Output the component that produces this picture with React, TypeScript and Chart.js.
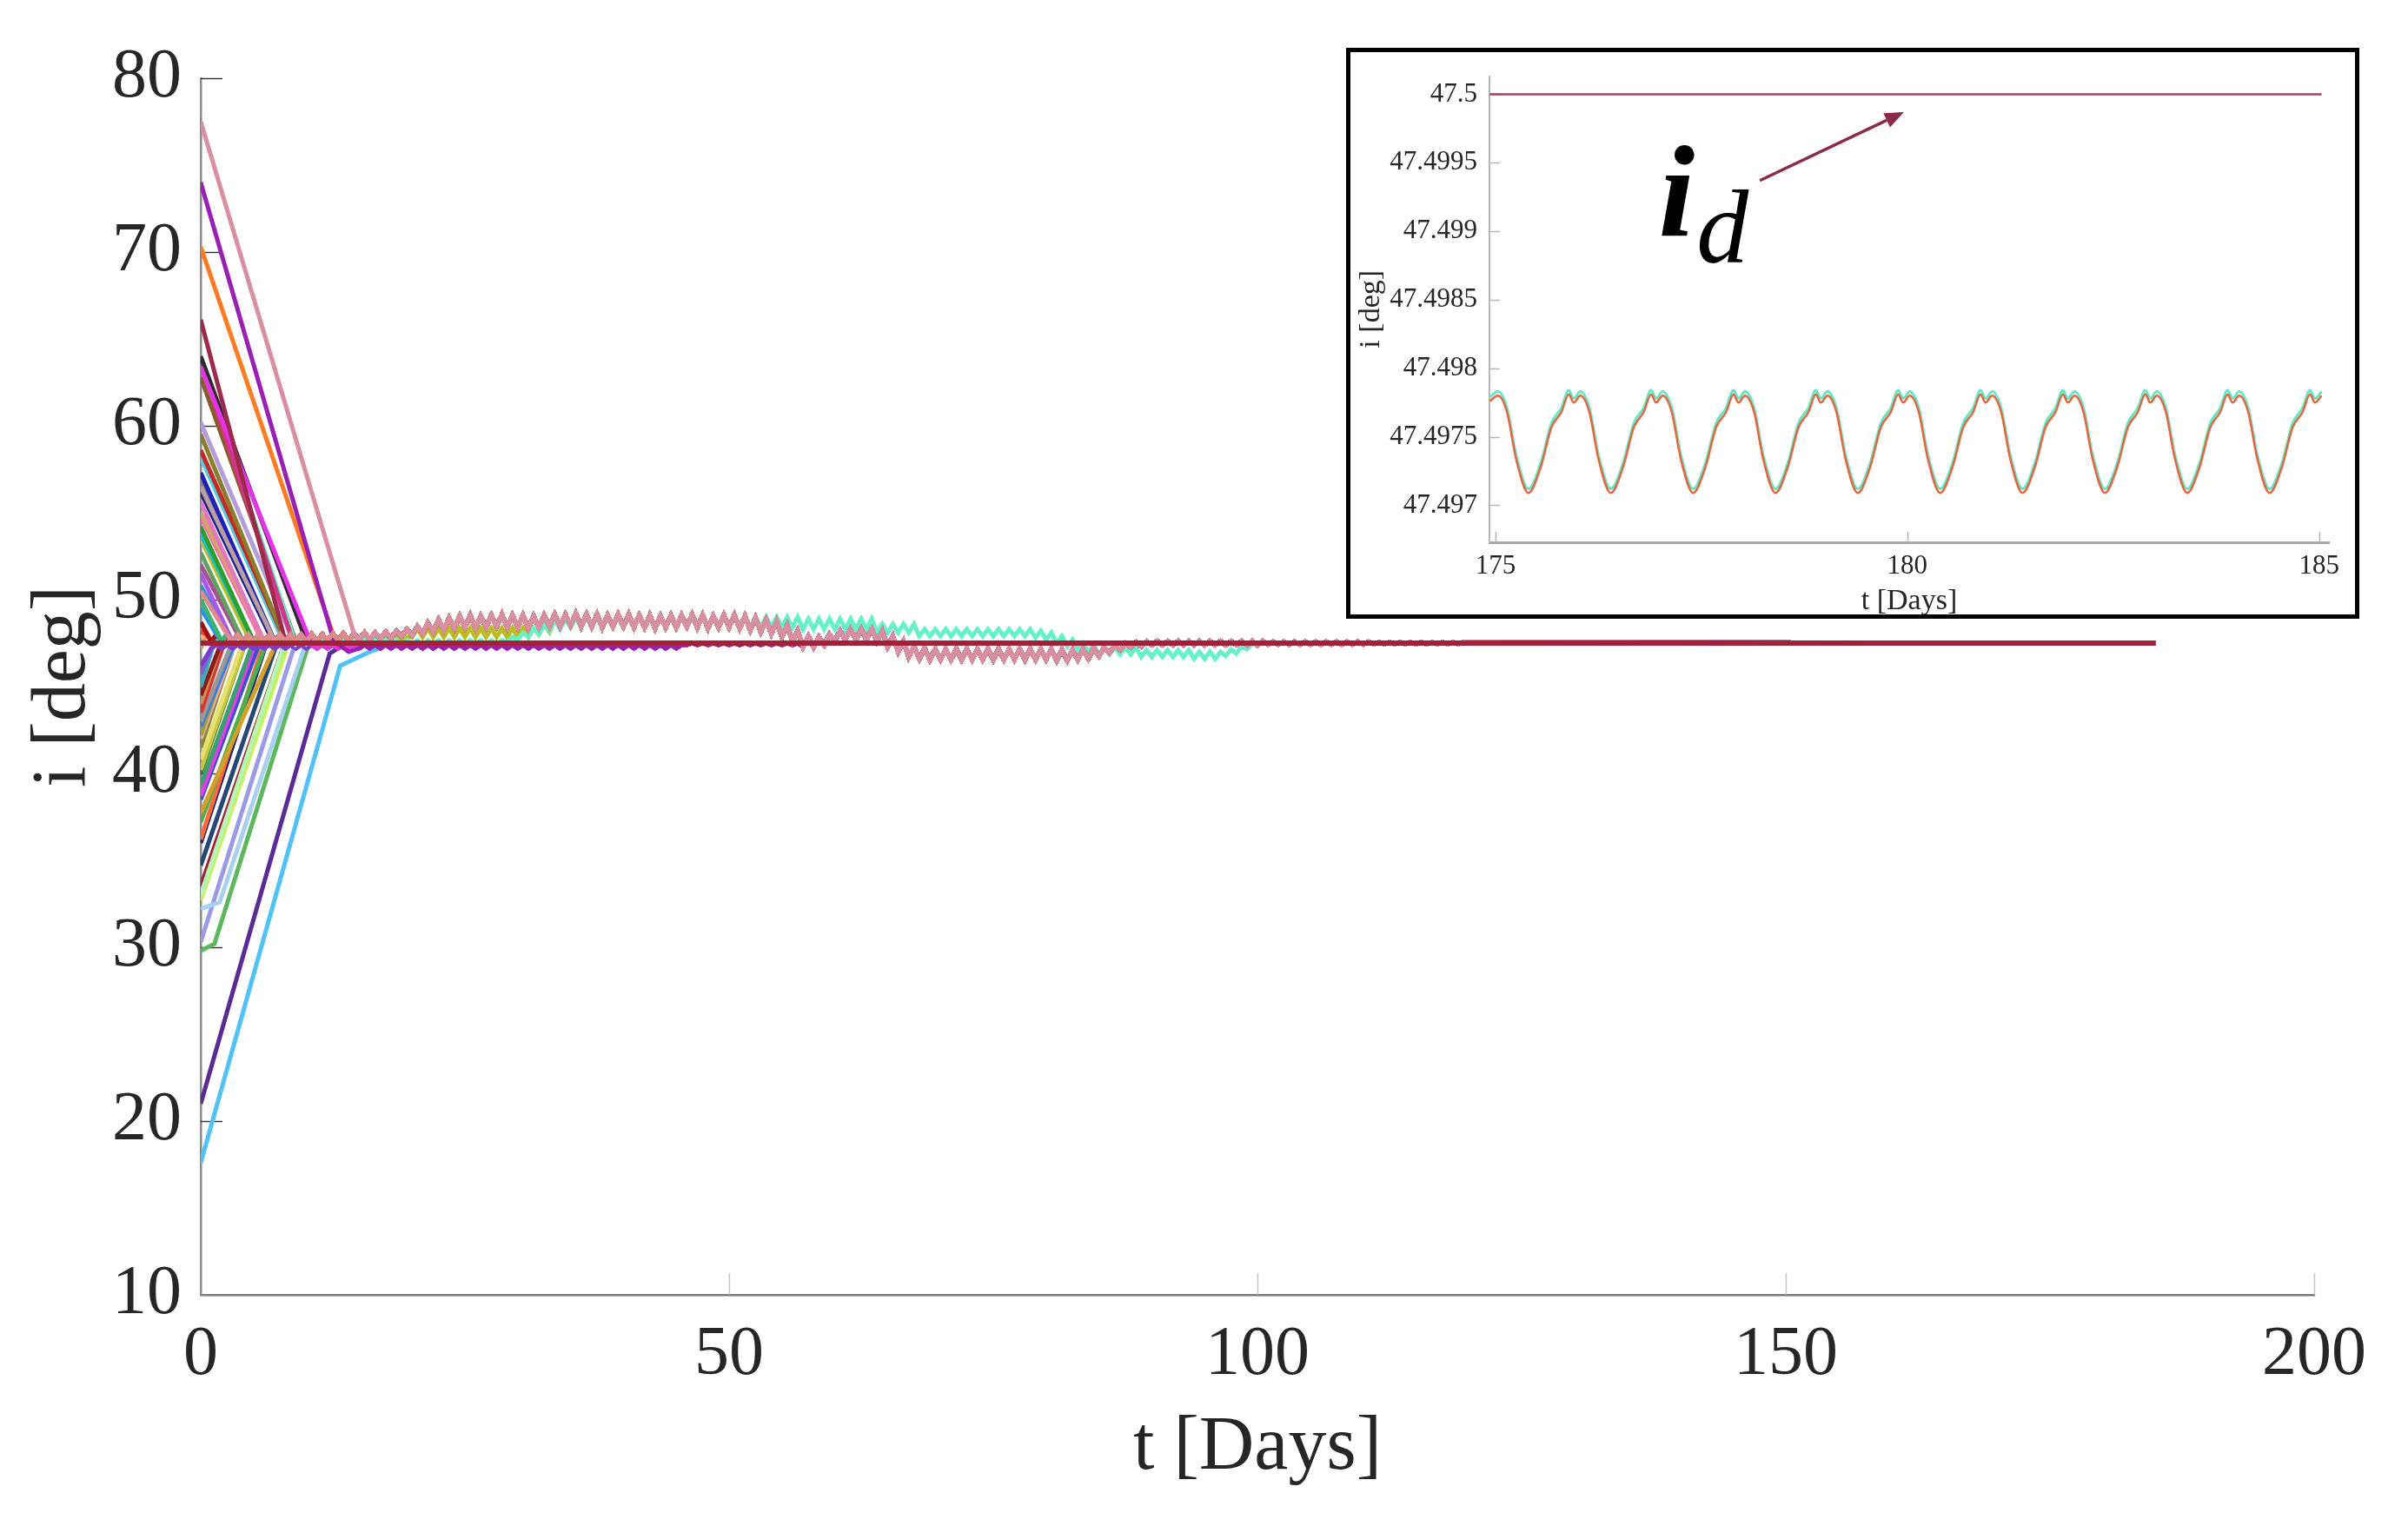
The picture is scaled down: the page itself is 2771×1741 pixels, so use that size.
import React, { useEffect, useRef } from 'react';
import { Chart, registerables } from 'chart.js';

Chart.register(...registerables);

const SERIF = "'Liberation Serif', 'Times New Roman', serif";
const TEXT_COLOR = '#262626';

// ---------------- main chart data ----------------
const MAIN_X_TICKS = [0, 50, 100, 150, 200];
const MAIN_Y_TICKS = [10, 20, 30, 40, 50, 60, 70, 80];
const REF_T = [0, 185];
const REF_I = [47.5, 47.5];
const FINAL_T = 185;
const FINAL_I = 47.5;

// initial inclination of each trajectory [deg]
const FAN_START = [
  17.6, 21.0, 29.8, 30.3, 32.2, 32.7, 33.5, 33.0, 34.7, 36.0,
  36.2, 37.2, 37.7, 38.5, 38.7, 39.3, 40.0, 40.2, 40.8, 41.5,
  42.0, 42.2, 42.7, 43.0, 43.5, 44.0, 44.5, 45.0, 45.7, 46.2,
  47.2, 47.8, 48.2, 48.7, 49.5, 50.0, 50.8, 51.5, 52.0, 52.7,
  53.5, 53.8, 54.2, 54.8, 55.0, 55.6, 56.2, 56.8, 57.3, 58.2,
  58.6, 59.5, 60.2, 62.8, 63.8, 63.9, 63.7, 64.0, 63.4, 66.1,
  70.3, 74.0, 56.5, 50.5, 77.5,
];
// day at which each trajectory joins the settled bundle
const FAN_ARRIVE = [
  17, 13, 10.3, 8.8, 9.8, 8.3, 7.6, 8.0, 7.2, 6.5,
  5.8, 6.2, 7.1, 5.2, 5.0, 4.7, 4.3, 4.2, 3.8, 3.4,
  3.1, 3.0, 2.8, 2.6, 2.3, 2.0, 1.7, 1.4, 1.0, 0.7,
  0.3, 0.3, 0.4, 0.8, 1.4, 1.8, 2.4, 2.9, 3.3, 3.9,
  4.4, 4.6, 5.0, 5.4, 5.6, 6.0, 6.4, 6.8, 7.0, 7.4,
  7.6, 8.0, 8.4, 8.8, 8.6, 8.5, 8.2, 10.0, 10.3, 8.0,
  12.4, 15, 6.6, 2.2, 14.2,
];
const FAN_COLOR = [
  '#4fc3f7', '#5b2a96', '#5cb85c', '#9a9ae6', '#a8d0f0', '#c7f25a', '#a0203a', '#b5f5b5', '#24477a', '#1a237e',
  '#ff6a3d', '#4caf50', '#d4a02a', '#3a50d0', '#e040e0', '#3aa070', '#2e7d32', '#c8c840', '#e8e070', '#8a8a30',
  '#f4a6c0', '#a0a030', '#3b7dd8', '#999999', '#e03030', '#c89050', '#8b1a1a', '#30b0c0', '#8060d0', '#7a3ad6',
  '#d0a070', '#ffb07a', '#e53935', '#a01010', '#2196f3', '#3cb371', '#3a8fd8', '#aa55ee', '#a55194', '#5fa35f',
  '#bcbd22', '#17becf', '#2ca02c', '#ff69b4', '#d6a36b', '#e377c2', '#1e1e8f', '#808080', '#1f1fbf', '#4dd0e1',
  '#c62828', '#8b7d2b', '#b39ddb', '#8b5a2b', '#66f2c8', '#43a047', '#d6338c', '#2b2b2b', '#e433e8', '#9e2a4b',
  '#ff7b22', '#9a1fb5', '#b8a0a0', '#e08a8a', '#d98ea1',
];
const FAN_TAIL = [
  'D', 'D', 'A', 'A', 'A', 'C', 'A', 'A', 'A', 'A',
  'A', 'A', 'A', 'D', 'D', 'A', 'A', 'A', 'C', 'A',
  'A', 'A', 'D', 'A', 'A', 'A', 'A', 'A', 'D', 'D',
  'A', 'A', 'A', 'A', 'A', 'A', 'A', 'A', 'A', 'A',
  'C', 'A', 'A', 'A', 'A', 'A', 'A', 'A', 'A', 'A',
  'A', 'A', 'A', 'A', 'B', 'A', 'A', 'A', 'D', 'A',
  'A', 'D', 'A', 'A', 'A',
];
// extra read-off bends [day, deg] before joining
const FAN_KNOTS: Record<number, number[][]> = {
  0: [[13.2, 46.2], [16, 47.0]],
  1: [[12.2, 46.9]],
  2: [[1.3, 30.2]],
  4: [[1.8, 32.6]],
  61: [[12.6, 47.6], [14, 47.0]],
};

// settled bundle, per day: trough at day d, peak at d + 0.5
const A_PEAK = [
  48.0, 48.0, 48.0, 48.0, 48.0, 48.0, 48.0, 48.0, 48.0, 48.0,
  48.0, 48.0, 48.05, 48.05, 48.05, 48.1, 48.1, 48.15, 48.2, 48.3,
  48.45, 48.65, 48.85, 48.95, 49.05, 49.1, 49.05, 49.1, 49.15, 49.1,
  49.1, 49.05, 49.1, 49.15, 49.15, 49.2, 49.15, 49.15, 49.1, 49.15,
  49.15, 49.1, 49.1, 49.05, 49.1, 49.1, 49.15, 49.1, 49.05, 49.1,
  49.1, 49.05, 48.95, 48.85, 48.75, 48.55, 48.2, 47.9, 47.85, 48.0,
  48.2, 48.3, 48.3, 48.3, 48.2, 47.9, 47.6, 47.3, 47.2, 47.15,
  47.15, 47.15, 47.15, 47.15, 47.15, 47.15, 47.15, 47.15, 47.15, 47.15,
  47.15, 47.1, 47.1, 47.15, 47.2, 47.25, 47.35, 47.5, 47.55, 47.6,
  47.62, 47.62, 47.62, 47.62, 47.62, 47.62, 47.62, 47.62, 47.62, 47.62,
  47.62, 47.58, 47.58, 47.58, 47.58, 47.58, 47.58, 47.58, 47.58, 47.58,
  47.58, 47.55, 47.55, 47.55, 47.55, 47.55, 47.55, 47.55, 47.55, 47.55,
];
const A_TROUGH = [
  47.6, 47.6, 47.6, 47.6, 47.6, 47.6, 47.6, 47.6, 47.6, 47.6,
  47.6, 47.6, 47.65, 47.65, 47.65, 47.7, 47.7, 47.75, 47.8, 47.9,
  47.95, 48.05, 48.15, 48.25, 48.35, 48.4, 48.35, 48.4, 48.45, 48.4,
  48.4, 48.35, 48.4, 48.45, 48.45, 48.5, 48.45, 48.45, 48.4, 48.45,
  48.45, 48.4, 48.4, 48.35, 48.4, 48.4, 48.45, 48.4, 48.35, 48.4,
  48.4, 48.35, 48.25, 48.15, 48.05, 47.85, 47.6, 47.3, 47.25, 47.4,
  47.6, 47.7, 47.7, 47.7, 47.6, 47.3, 47.0, 46.7, 46.6, 46.55,
  46.55, 46.55, 46.55, 46.55, 46.55, 46.55, 46.55, 46.55, 46.55, 46.55,
  46.55, 46.5, 46.5, 46.55, 46.6, 46.75, 46.95, 47.1, 47.25, 47.3,
  47.38, 47.38, 47.38, 47.38, 47.38, 47.38, 47.38, 47.38, 47.38, 47.38,
  47.38, 47.42, 47.42, 47.42, 47.42, 47.42, 47.42, 47.42, 47.42, 47.42,
  47.42, 47.45, 47.45, 47.45, 47.45, 47.45, 47.45, 47.45, 47.45, 47.45,
];
// aquamarine trajectory
const B_PEAK = [
  47.67, 47.67, 47.67, 47.67, 47.67, 47.67, 47.67, 47.67, 47.67, 47.67,
  47.67, 47.67, 47.67, 47.67, 47.67, 47.67, 47.67, 47.67, 47.67, 47.67,
  47.67, 47.67, 47.67, 47.67, 47.67, 47.67, 47.67, 47.67, 47.67, 47.85,
  48.1, 48.35, 48.6, 48.8, 48.9, 49.0, 49.0, 49.0, 49.0, 49.0,
  49.0, 49.0, 49.0, 49.0, 49.0, 49.0, 49.0, 49.0, 49.0, 49.0,
  49.0, 49.0, 49.0, 49.0, 49.0, 49.0, 49.0, 48.9, 48.9, 48.9,
  48.9, 48.9, 48.9, 48.9, 48.6, 48.6, 48.6, 48.6, 48.3, 48.3,
  48.3, 48.3, 48.3, 48.3, 48.3, 48.3, 48.3, 48.3, 48.3, 48.2,
  48.1, 47.9, 47.7, 47.5, 47.4, 47.25, 47.25, 47.25, 47.25, 47.1,
  47.1, 47.1, 47.1, 47.1, 47.0, 47.0, 47.0, 47.15, 47.3, 47.45,
  47.57, 47.6, 47.6, 47.6, 47.6, 47.6, 47.6, 47.6, 47.6, 47.6,
  47.6, 47.56, 47.56, 47.56, 47.56, 47.56, 47.56, 47.56, 47.56, 47.56,
];
const B_TROUGH = [
  47.43, 47.43, 47.43, 47.43, 47.43, 47.43, 47.43, 47.43, 47.43, 47.43,
  47.43, 47.43, 47.43, 47.43, 47.43, 47.43, 47.43, 47.43, 47.43, 47.43,
  47.43, 47.43, 47.43, 47.43, 47.43, 47.43, 47.43, 47.43, 47.43, 47.55,
  47.7, 47.85, 48.0, 48.2, 48.3, 48.4, 48.4, 48.4, 48.4, 48.4,
  48.4, 48.4, 48.4, 48.4, 48.4, 48.4, 48.4, 48.4, 48.4, 48.4,
  48.4, 48.4, 48.4, 48.4, 48.4, 48.4, 48.4, 48.3, 48.3, 48.3,
  48.3, 48.3, 48.3, 48.3, 48.1, 48.1, 48.1, 48.1, 47.9, 47.9,
  47.9, 47.9, 47.9, 47.9, 47.9, 47.9, 47.9, 47.9, 47.9, 47.8,
  47.7, 47.5, 47.3, 47.1, 47.0, 46.85, 46.85, 46.85, 46.85, 46.7,
  46.7, 46.7, 46.7, 46.7, 46.6, 46.6, 46.6, 46.75, 46.9, 47.15,
  47.33, 47.4, 47.4, 47.4, 47.4, 47.4, 47.4, 47.4, 47.4, 47.4,
  47.4, 47.44, 47.44, 47.44, 47.44, 47.44, 47.44, 47.44, 47.44, 47.44,
];
// yellow-green lagging trajectories (then follow the bundle)
const C_PEAK = [
  47.85, 47.85, 47.85, 47.85, 47.85, 47.85, 47.85, 47.85, 47.85, 47.85,
  47.85, 47.85, 47.85, 47.85, 47.85, 47.85, 47.85, 47.85, 47.85, 47.85,
  48.35, 48.35, 48.35, 48.35, 48.35, 48.35, 48.35, 48.35, 48.35, 48.35,
  48.35, 48.35, 48.6, 48.85,
];
const C_TROUGH = [
  47.55, 47.55, 47.55, 47.55, 47.55, 47.55, 47.55, 47.55, 47.55, 47.55,
  47.55, 47.55, 47.55, 47.55, 47.55, 47.55, 47.55, 47.55, 47.55, 47.55,
  47.85, 47.85, 47.85, 47.85, 47.85, 47.85, 47.85, 47.85, 47.85, 47.85,
  47.85, 47.85, 48.0, 48.15,
];
// trajectories staying just below i_d (then follow the bundle)
const D_PEAK = [
  47.4, 47.4, 47.4, 47.4, 47.4, 47.4, 47.4, 47.4, 47.4, 47.4,
  47.4, 47.4, 47.4, 47.4, 47.4, 47.4, 47.4, 47.4, 47.4, 47.4,
  47.4, 47.4, 47.4, 47.4, 47.4, 47.4, 47.4, 47.4, 47.4, 47.4,
  47.4, 47.4, 47.4, 47.4, 47.4, 47.4, 47.4, 47.4, 47.4, 47.4,
  47.4, 47.4, 47.4, 47.4, 47.4, 47.4, 47.5, 47.5, 47.5, 47.5,
  47.5, 47.5, 47.5, 47.5, 47.5, 47.5, 47.5,
];
const D_TROUGH = [
  47.2, 47.2, 47.2, 47.2, 47.2, 47.2, 47.2, 47.2, 47.2, 47.2,
  47.2, 47.2, 47.2, 47.2, 47.2, 47.2, 47.2, 47.2, 47.2, 47.2,
  47.2, 47.2, 47.2, 47.2, 47.2, 47.2, 47.2, 47.2, 47.2, 47.2,
  47.2, 47.2, 47.2, 47.2, 47.2, 47.2, 47.2, 47.2, 47.2, 47.2,
  47.2, 47.2, 47.2, 47.2, 47.2, 47.2, 47.4, 47.4, 47.4, 47.4,
  47.4, 47.4, 47.4, 47.4, 47.4, 47.4, 47.4,
];

// ---------------- inset data ----------------
const INSET_X_TICKS = [175, 180, 185];
const INSET_Y_TICKS = [47.497, 47.4975, 47.498, 47.4985, 47.499, 47.4995, 47.5];
const INSET_Y_LABELS = ['47.497', '47.4975', '47.498', '47.4985', '47.499', '47.4995', '47.5'];
const INSET_X_MIN = 174.927;
const INSET_X_MAX = 185.12;
const INSET_Y_MIN = 47.49673;
const INSET_Y_MAX = 47.500132;
const INSET_REF_T = [174.93, 185.03];
const INSET_REF_I = [47.5, 47.5];
const INSET_T = [
  174.93,
  175.03, 175.14, 175.25, 175.40, 175.55, 175.68, 175.80, 175.89, 175.95,
  176.03, 176.14, 176.25, 176.40, 176.55, 176.68, 176.80, 176.89, 176.95,
  177.03, 177.14, 177.25, 177.40, 177.55, 177.68, 177.80, 177.89, 177.95,
  178.03, 178.14, 178.25, 178.40, 178.55, 178.68, 178.80, 178.89, 178.95,
  179.03, 179.14, 179.25, 179.40, 179.55, 179.68, 179.80, 179.89, 179.95,
  180.03, 180.14, 180.25, 180.40, 180.55, 180.68, 180.80, 180.89, 180.95,
  181.03, 181.14, 181.25, 181.40, 181.55, 181.68, 181.80, 181.89, 181.95,
  182.03, 182.14, 182.25, 182.40, 182.55, 182.68, 182.80, 182.89, 182.95,
  183.03, 183.14, 183.25, 183.40, 183.55, 183.68, 183.80, 183.89, 183.95,
  184.03, 184.14, 184.25, 184.40, 184.55, 184.68, 184.80, 184.89, 184.95,
  185.03,
];
const INSET_CYAN = [
  47.49779,
  47.49783, 47.49771, 47.49737, 47.49712, 47.49731, 47.4976, 47.49771, 47.49784, 47.49778,
  47.49783, 47.49771, 47.49737, 47.49712, 47.49731, 47.4976, 47.49771, 47.49784, 47.49778,
  47.49783, 47.49771, 47.49737, 47.49712, 47.49731, 47.4976, 47.49771, 47.49784, 47.49778,
  47.49783, 47.49771, 47.49737, 47.49712, 47.49731, 47.4976, 47.49771, 47.49784, 47.49778,
  47.49783, 47.49771, 47.49737, 47.49712, 47.49731, 47.4976, 47.49771, 47.49784, 47.49778,
  47.49783, 47.49771, 47.49737, 47.49712, 47.49731, 47.4976, 47.49771, 47.49784, 47.49778,
  47.49783, 47.49771, 47.49737, 47.49712, 47.49731, 47.4976, 47.49771, 47.49784, 47.49778,
  47.49783, 47.49771, 47.49737, 47.49712, 47.49731, 47.4976, 47.49771, 47.49784, 47.49778,
  47.49783, 47.49771, 47.49737, 47.49712, 47.49731, 47.4976, 47.49771, 47.49784, 47.49778,
  47.49783, 47.49771, 47.49737, 47.49712, 47.49731, 47.4976, 47.49771, 47.49784, 47.49778,
  47.49783,
];
const INSET_ORANGE = [
  47.49776,
  47.4978, 47.49768, 47.49734, 47.49709, 47.49728, 47.49757, 47.49768, 47.49781, 47.49775,
  47.4978, 47.49768, 47.49734, 47.49709, 47.49728, 47.49757, 47.49768, 47.49781, 47.49775,
  47.4978, 47.49768, 47.49734, 47.49709, 47.49728, 47.49757, 47.49768, 47.49781, 47.49775,
  47.4978, 47.49768, 47.49734, 47.49709, 47.49728, 47.49757, 47.49768, 47.49781, 47.49775,
  47.4978, 47.49768, 47.49734, 47.49709, 47.49728, 47.49757, 47.49768, 47.49781, 47.49775,
  47.4978, 47.49768, 47.49734, 47.49709, 47.49728, 47.49757, 47.49768, 47.49781, 47.49775,
  47.4978, 47.49768, 47.49734, 47.49709, 47.49728, 47.49757, 47.49768, 47.49781, 47.49775,
  47.4978, 47.49768, 47.49734, 47.49709, 47.49728, 47.49757, 47.49768, 47.49781, 47.49775,
  47.4978, 47.49768, 47.49734, 47.49709, 47.49728, 47.49757, 47.49768, 47.49781, 47.49775,
  47.4978, 47.49768, 47.49734, 47.49709, 47.49728, 47.49757, 47.49768, 47.49781, 47.49775,
  47.4978,
];
// annotation anchors in inset data coordinates
const ARROW_FROM = [178.21, 47.49937];
const ARROW_TO = [179.96, 47.49987];
const LABEL_I_POS = [176.98, 47.49896];
const LABEL_D_POS = [177.44, 47.49877];

type Pt = { x: number; y: number };

function tailPoints(peaks: number[], troughs: number[]): Pt[] {
  const pts: Pt[] = [];
  peaks.forEach((p, d) => {
    pts.push({ x: d, y: troughs[d] });
    pts.push({ x: d + 0.5, y: p });
  });
  return pts;
}

function buildTails(): Record<string, Pt[]> {
  const fin = { x: FINAL_T, y: FINAL_I };
  const a = [...tailPoints(A_PEAK, A_TROUGH), fin];
  const b = [...tailPoints(B_PEAK, B_TROUGH), fin];
  const c = [...tailPoints(C_PEAK, C_TROUGH), ...a.filter((p) => p.x >= C_PEAK.length)];
  const d = [...tailPoints(D_PEAK, D_TROUGH), ...a.filter((p) => p.x >= D_PEAK.length)];
  return { A: a, B: b, C: c, D: d };
}

function innerTicks(id: string, len: number, width: number, xColor: string, yColor: string) {
  return {
    id,
    beforeDatasetsDraw(chart: any) {
      const { ctx, chartArea } = chart;
      const xs = chart.scales.x;
      const ys = chart.scales.y;
      ctx.save();
      ctx.lineWidth = width;
      ctx.strokeStyle = xColor;
      xs.ticks.forEach((t: any) => {
        const px = Math.round(xs.getPixelForValue(t.value)) + 0.5;
        if (Math.abs(px - chartArea.left) < 3) return;
        ctx.beginPath();
        ctx.moveTo(px, chartArea.bottom);
        ctx.lineTo(px, chartArea.bottom - len);
        ctx.stroke();
      });
      ctx.strokeStyle = yColor;
      ys.ticks.forEach((t: any) => {
        const py = Math.round(ys.getPixelForValue(t.value)) + 0.5;
        if (Math.abs(py - chartArea.bottom) < 3) return;
        ctx.beginPath();
        ctx.moveTo(chartArea.left, py);
        ctx.lineTo(chartArea.left + len, py);
        ctx.stroke();
      });
      ctx.restore();
    },
  };
}

const insetAnnotation = {
  id: 'insetAnnotation',
  afterDatasetsDraw(chart: any) {
    const { ctx } = chart;
    const xs = chart.scales.x;
    const ys = chart.scales.y;
    const x1 = xs.getPixelForValue(ARROW_FROM[0]);
    const y1 = ys.getPixelForValue(ARROW_FROM[1]);
    const x2 = xs.getPixelForValue(ARROW_TO[0]);
    const y2 = ys.getPixelForValue(ARROW_TO[1]);
    const ang = Math.atan2(y2 - y1, x2 - x1);
    const head = 22;
    const hw = 9;
    const bx = x2 - head * Math.cos(ang);
    const by = y2 - head * Math.sin(ang);
    ctx.save();
    ctx.strokeStyle = '#8b2a4a';
    ctx.fillStyle = '#8b2a4a';
    ctx.lineWidth = 3.5;
    ctx.beginPath();
    ctx.moveTo(x1, y1);
    ctx.lineTo(bx, by);
    ctx.stroke();
    ctx.beginPath();
    ctx.moveTo(x2, y2);
    ctx.lineTo(bx + hw * Math.sin(ang), by - hw * Math.cos(ang));
    ctx.lineTo(bx - hw * Math.sin(ang), by + hw * Math.cos(ang));
    ctx.closePath();
    ctx.fill();
    ctx.fillStyle = '#000';
    ctx.textAlign = 'left';
    ctx.textBaseline = 'alphabetic';
    ctx.font = `italic bold 150px ${SERIF}`;
    ctx.fillText('i', xs.getPixelForValue(LABEL_I_POS[0]), ys.getPixelForValue(LABEL_I_POS[1]));
    ctx.font = `italic 120px ${SERIF}`;
    ctx.fillText('d', xs.getPixelForValue(LABEL_D_POS[0]), ys.getPixelForValue(LABEL_D_POS[1]));
    ctx.restore();
  },
};

function mainConfig(): any {
  const tails = buildTails();
  const fan: any[] = FAN_START.map((v0, i) => {
    const knots = FAN_KNOTS[i] || [];
    const pts: Pt[] = [{ x: 0, y: v0 }, ...knots.map(([t, v]) => ({ x: t, y: v }))];
    const ta = FAN_ARRIVE[i];
    pts.push(...tails[FAN_TAIL[i]].filter((p) => p.x >= ta));
    return {
      data: pts,
      borderColor: FAN_COLOR[i],
      borderWidth: 5,
      pointRadius: 0,
      tension: 0,
      fill: false,
    };
  });
  const ref = {
    data: REF_T.map((t, k) => ({ x: t, y: REF_I[k] })),
    borderColor: '#a3203a',
    borderWidth: 6,
    pointRadius: 0,
    fill: false,
  };
  // Chart.js paints dataset 0 last (on top): put the i_d line first, then fan in reverse
  const datasets = [ref, ...fan.slice().reverse()];
  return {
    type: 'line',
    data: { datasets },
    plugins: [innerTicks('mainTicks', 25, 1.5, '#c4c4c4', '#3a3a3a')],
    options: {
      responsive: false,
      animation: false,
      events: [],
      parsing: false,
      normalized: true,
      layout: { padding: { left: 0, right: 108, top: 90, bottom: 0 } },
      plugins: { legend: { display: false }, tooltip: { enabled: false } },
      scales: {
        x: {
          type: 'linear',
          min: 0,
          max: 200,
          afterBuildTicks: (s: any) => {
            s.ticks = MAIN_X_TICKS.map((v) => ({ value: v }));
          },
          afterFit: (s: any) => {
            s.height = 251;
          },
          grid: { display: true, drawOnChartArea: false, drawTicks: false },
          border: { display: true, color: '#7a7a7a', width: 2.5 },
          ticks: {
            autoSkip: false,
            maxRotation: 0,
            minRotation: 0,
            padding: 22,
            color: TEXT_COLOR,
            font: { family: SERIF, size: 80 },
            callback: (v: any) => String(v),
          },
          title: {
            display: true,
            text: 't [Days]',
            color: TEXT_COLOR,
            font: { family: SERIF, size: 88 },
            padding: { top: 0, bottom: 21 },
          },
        },
        y: {
          type: 'linear',
          min: 10,
          max: 80,
          afterBuildTicks: (s: any) => {
            s.ticks = MAIN_Y_TICKS.map((v) => ({ value: v }));
          },
          afterFit: (s: any) => {
            s.width = 231;
          },
          grid: { display: true, drawOnChartArea: false, drawTicks: false },
          border: { display: true, color: '#8a8a8a', width: 2.5 },
          ticks: {
            autoSkip: false,
            padding: 22,
            color: TEXT_COLOR,
            font: { family: SERIF, size: 80 },
            callback: (v: any) => String(v),
          },
          title: {
            display: true,
            text: 'i [deg]',
            color: TEXT_COLOR,
            font: { family: SERIF, size: 88 },
            padding: { top: 21, bottom: 0 },
          },
        },
      },
    },
  };
}

function insetConfig(): any {
  const cyan = {
    data: INSET_T.map((t, k) => ({ x: t, y: INSET_CYAN[k] })),
    borderColor: '#62e8c6',
    borderWidth: 3,
    pointRadius: 0,
    cubicInterpolationMode: 'monotone',
    tension: 0.4,
    fill: false,
  };
  const orange = {
    data: INSET_T.map((t, k) => ({ x: t, y: INSET_ORANGE[k] })),
    borderColor: '#e8643c',
    borderWidth: 2.5,
    pointRadius: 0,
    cubicInterpolationMode: 'monotone',
    tension: 0.4,
    fill: false,
  };
  const ref = {
    data: INSET_REF_T.map((t, k) => ({ x: t, y: INSET_REF_I[k] })),
    borderColor: '#b33a5a',
    borderWidth: 2.5,
    pointRadius: 0,
    fill: false,
  };
  return {
    type: 'line',
    data: { datasets: [ref, orange, cyan] },
    plugins: [innerTicks('insetTicks', 12, 1.5, '#b4b4b4', '#b4b4b4'), insetAnnotation],
    options: {
      responsive: false,
      animation: false,
      events: [],
      parsing: false,
      layout: { padding: { left: 0, right: 35, top: 16, bottom: 0 } },
      plugins: { legend: { display: false }, tooltip: { enabled: false } },
      scales: {
        x: {
          type: 'linear',
          min: INSET_X_MIN,
          max: INSET_X_MAX,
          afterBuildTicks: (s: any) => {
            s.ticks = INSET_X_TICKS.map((v) => ({ value: v }));
          },
          afterFit: (s: any) => {
            s.height = 88;
          },
          grid: { display: true, drawOnChartArea: false, drawTicks: false },
          border: { display: true, color: '#a8a8a8', width: 3 },
          ticks: {
            autoSkip: false,
            maxRotation: 0,
            minRotation: 0,
            padding: 9,
            color: TEXT_COLOR,
            font: { family: SERIF, size: 31 },
            callback: (v: any) => String(v),
          },
          title: {
            display: true,
            text: 't [Days]',
            color: TEXT_COLOR,
            font: { family: SERIF, size: 34 },
            padding: { top: 0, bottom: 0 },
          },
        },
        y: {
          type: 'linear',
          min: INSET_Y_MIN,
          max: INSET_Y_MAX,
          afterBuildTicks: (s: any) => {
            s.ticks = INSET_Y_TICKS.map((v) => ({ value: v }));
          },
          afterFit: (s: any) => {
            s.width = 165;
          },
          grid: { display: true, drawOnChartArea: false, drawTicks: false },
          border: { display: true, color: '#b8b8b8', width: 2 },
          ticks: {
            autoSkip: false,
            padding: 14,
            color: TEXT_COLOR,
            font: { family: SERIF, size: 31 },
            callback: (_v: any, idx: number) => INSET_Y_LABELS[idx],
          },
          title: {
            display: true,
            text: 'i [deg]',
            color: TEXT_COLOR,
            font: { family: SERIF, size: 34 },
            padding: { top: 9, bottom: 0 },
          },
        },
      },
    },
  };
}

export default function App() {
  const mainRef = useRef<HTMLCanvasElement>(null);
  const insetRef = useRef<HTMLCanvasElement>(null);

  useEffect(() => {
    document.body.style.margin = '0';
    const c1 = new Chart(mainRef.current as HTMLCanvasElement, mainConfig());
    const c2 = new Chart(insetRef.current as HTMLCanvasElement, insetConfig());
    return () => {
      c1.destroy();
      c2.destroy();
    };
  }, []);

  return (
    <div style={{ position: 'relative', width: 2771, height: 1741, background: '#fff', overflow: 'hidden' }}>
      <canvas
        ref={mainRef}
        width={2771}
        height={1741}
        style={{ position: 'absolute', left: 0, top: 0, width: 2771, height: 1741 }}
      />
      <canvas
        ref={insetRef}
        width={1166}
        height={657}
        style={{ position: 'absolute', left: 1549, top: 55, width: 1166, height: 657, background: '#fff' }}
      />
      <div
        style={{
          position: 'absolute',
          left: 1549,
          top: 55,
          width: 1166,
          height: 657,
          border: '5px solid #000',
          boxSizing: 'border-box',
          pointerEvents: 'none',
        }}
      />
    </div>
  );
}
